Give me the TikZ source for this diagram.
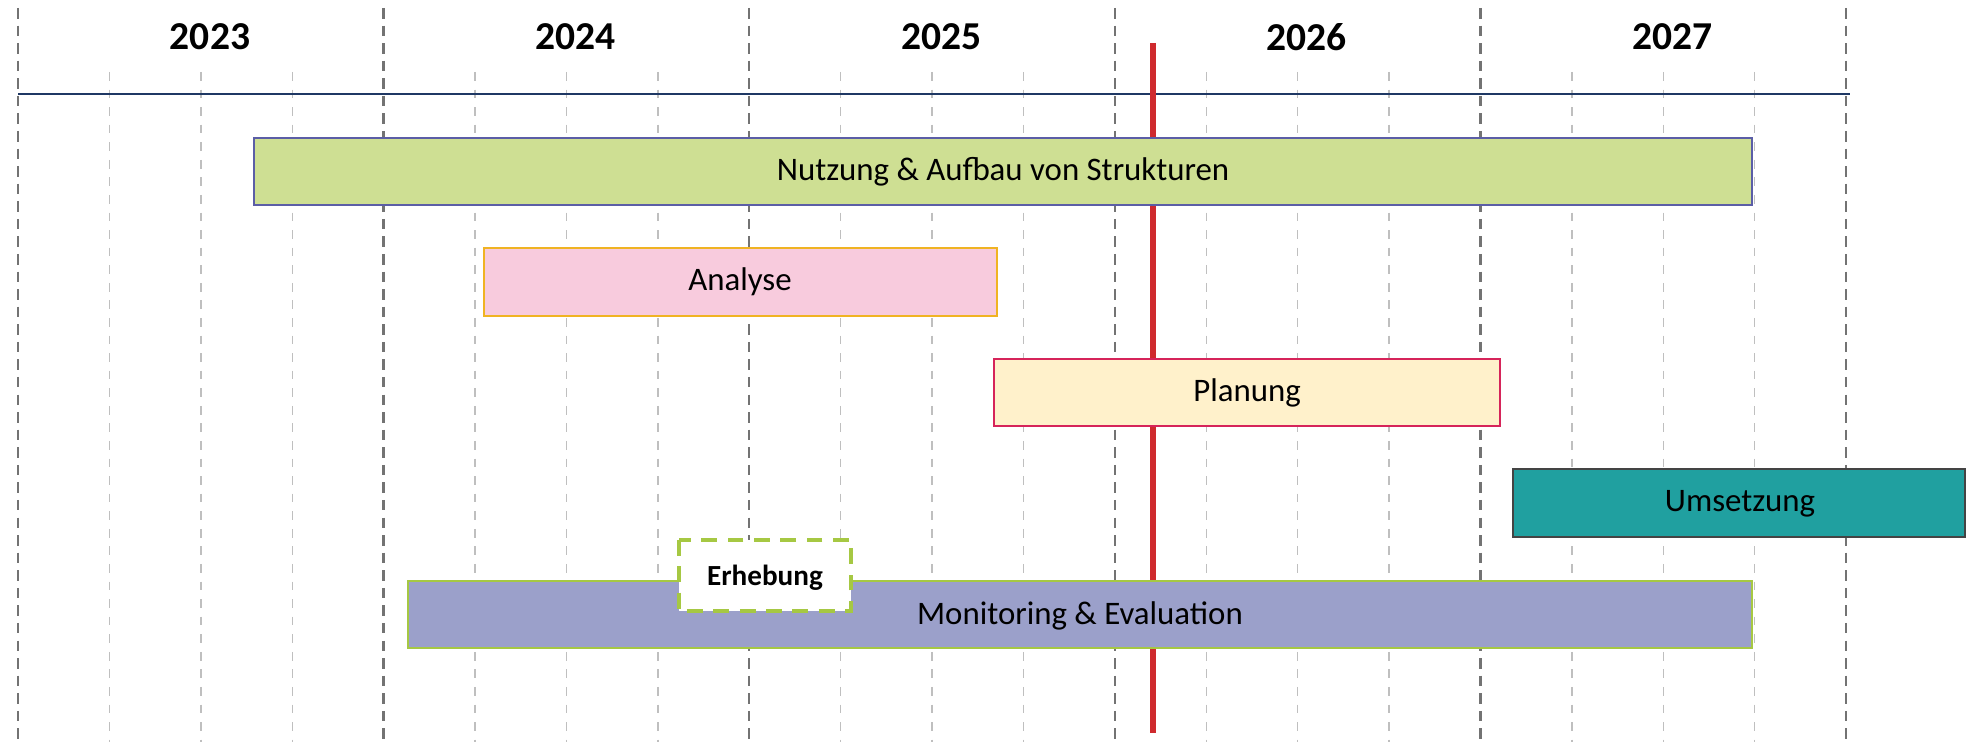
\documentclass[tikz,border=0pt]{standalone}
\usepackage{fontspec}
\setmainfont{Carlito}
\definecolor{axisblue}{HTML}{1F3864}
\definecolor{nowred}{HTML}{CF2A2E}
\definecolor{nutzfill}{HTML}{CEDF93}
\definecolor{nutzline}{HTML}{5B5EA6}
\definecolor{anafill}{HTML}{F8CBDD}
\definecolor{analine}{HTML}{F0B323}
\definecolor{planfill}{HTML}{FFF1CB}
\definecolor{planline}{HTML}{D6245A}
\definecolor{umsfill}{HTML}{20A0A0}
\definecolor{umsline}{HTML}{444444}
\definecolor{monfill}{HTML}{9BA0CA}
\definecolor{monline}{HTML}{A6C843}
\tikzset{
  yeardiv/.style={draw=gray!90!black, line width=1.4pt, dash pattern=on 6pt off 4pt},
  quarterdiv/.style={draw=gray!50, line width=0.8pt, dash pattern=on 5pt off 5pt},
  yearlabel/.style={font=\fontsize{22.5}{27}\selectfont\bfseries},
  barbox/.style={line width=1.1pt},
  barlabel/.style={font=\fontsize{18.7}{22}\selectfont}
}
\begin{document}
\begin{tikzpicture}[x=0.02cm, y=-0.02cm]
        \useasboundingbox (0, 0) rectangle (1967, 742);
        \clip (0, 0) rectangle (1967, 742);

        % quarters and years
        \foreach \i in {0,...,4}
            \foreach \q in {1,2,3}
                \draw[quarterdiv] (18+365.6*\i+91.4*\q, 72) -- (18+365.6*\i+91.4*\q, 742);
        \foreach \i in {0,...,5}
            \draw[yeardiv] (18+365.6*\i, 8) -- (18+365.6*\i, 742);
        \foreach \yr [count=\i from 0] in {2023,...,2027}
            \node[yearlabel] (y\yr) at (18+365.6*\i+192, 37) {\yr};

        \draw[axisblue, line width=1.1pt] (18, 94) -- (1850, 94);

        % today
        \draw[nowred, line width=3.4pt] (1153, 43) -- (1153, 733);

        % phases
        \draw[barbox, fill=nutzfill, draw=nutzline] (254, 138) rectangle (1752, 205);
        \node[barlabel] (nutzung) at (1003, 172) {Nutzung \& Aufbau von Strukturen};

        \draw[barbox, fill=anafill, draw=analine] (484, 248) rectangle (997, 316);
        \node[barlabel] (analyse) at (740, 282) {Analyse};

        \draw[barbox, fill=planfill, draw=planline] (994, 359) rectangle (1500, 426);
        \node[barlabel] (planung) at (1247, 393) {Planung};

        \draw[barbox, fill=umsfill, draw=umsline] (1513, 469) rectangle (1965, 537);
        \node[barlabel] (umsetzung) at (1740, 504) {Umsetzung};

        \draw[barbox, fill=monfill, draw=monline] (408, 581) rectangle (1752, 648);
        \node[barlabel] (monitoring) at (1080, 616) {Monitoring \& Evaluation};

        \draw[fill=white, draw=monline, line width=2.3pt, dash pattern=on 9pt off 6pt] (679, 540) rectangle (851, 611);
        \node[font=\fontsize{16.6}{20}\selectfont\bfseries] (erhebung) at (765, 578) {Erhebung};
\end{tikzpicture}
\end{document}
